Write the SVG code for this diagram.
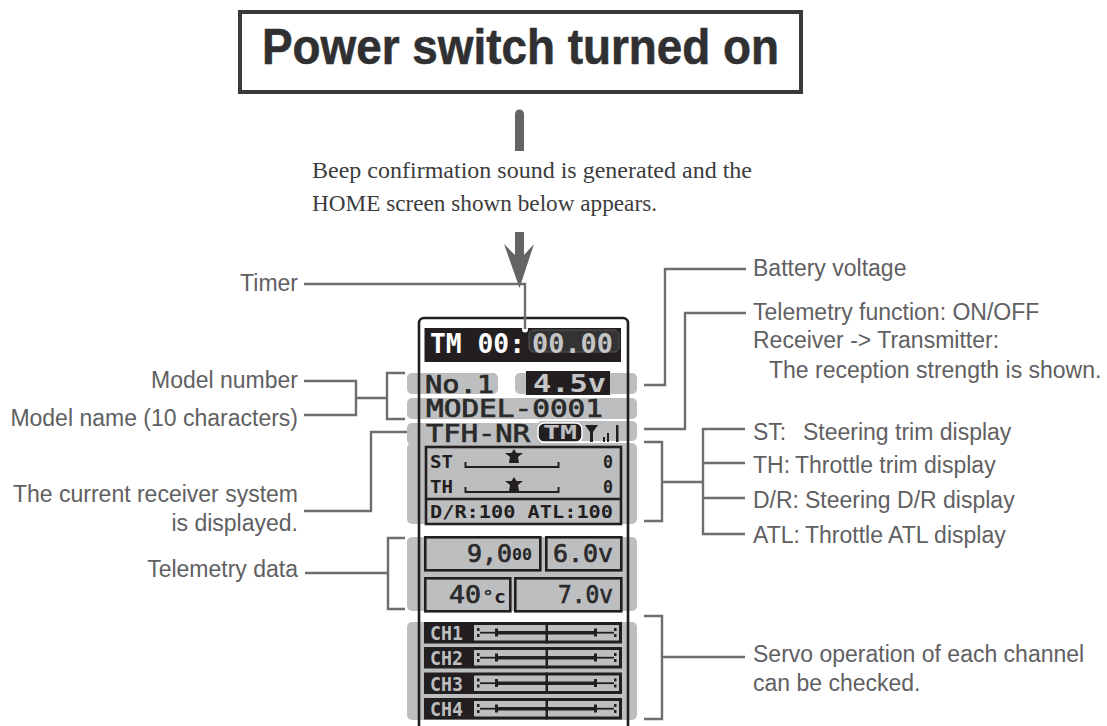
<svg xmlns="http://www.w3.org/2000/svg" width="1107" height="726" viewBox="0 0 1107 726">
<style>
.lb{font-family:"Liberation Sans",Arial,sans-serif;font-size:23px;fill:#5f6062}
.end{text-anchor:end}
.ser{font-family:"Liberation Serif","Times New Roman",serif;font-size:23px;fill:#3c3c3c}
.c{fill:none;stroke:#6d6e71;stroke-width:2.4}
.band{fill:#bcbec0}
.lcd{font-family:"DejaVu Sans Mono",monospace;font-size:24px;fill:#2a2a2a;stroke:#2a2a2a;stroke-width:.7}
.lcdb{font-family:"DejaVu Sans Mono",monospace;font-size:18px;font-weight:bold;fill:#231f20}
.panel{fill:none;stroke:#231f20;stroke-width:2.6}
.blk{fill:#231f20}
.chl{font-family:"DejaVu Sans Mono",monospace;font-size:20px;font-weight:bold;fill:#bcbec0}
</style>
<rect width="1107" height="726" fill="#fff"/>
<g id="title">
<rect x="240" y="12" width="561" height="80" fill="#fff" stroke="#3a3a3c" stroke-width="4"/>
<text x="262" y="64" font-family="'Liberation Sans',Arial,sans-serif" font-weight="bold" font-size="50" fill="#303032" stroke="#303032" stroke-width=".6" textLength="517" lengthAdjust="spacingAndGlyphs">Power switch turned on</text>
</g>
<g id="beep-note">
<path d="M515 151V114a4.500 4.500 0 0 1 9 0V151Z" fill="#636466"/>
<text class="ser" x="312" y="178" textLength="440" lengthAdjust="spacingAndGlyphs">Beep confirmation sound is generated and the</text>
<text class="ser" x="312" y="211" textLength="345" lengthAdjust="spacingAndGlyphs">HOME screen shown below appears.</text>
<path d="M515 232H524V255L534 244L519.500 288L504 244L515 255Z" fill="#636466"/>
</g>
<g id="screen">
<rect class="band" x="407" y="373" width="91" height="21" rx="5"/>
<rect class="band" x="515" y="373" width="122" height="21" rx="5"/>
<rect class="band" x="407" y="398" width="230" height="21" rx="5"/>
<rect class="band" x="407" y="423" width="135" height="22" rx="5"/>
<rect class="band" x="537" y="421" width="100" height="20" rx="5"/>
<rect class="band" x="407" y="443" width="230" height="81" rx="5"/>
<rect class="band" x="407" y="537" width="230" height="74" rx="5"/>
<rect class="band" x="407" y="622" width="230" height="98" rx="5"/>
<path d="M419 726V323a5 5 0 0 1 5-5H623a5 5 0 0 1 5 5V726" fill="none" stroke="#231f20" stroke-width="2.600"/>
<g id="timer-display">
<rect class="blk" x="424.500" y="328" width="196.500" height="34"/>
<rect x="529" y="330" width="90" height="22" rx="5" fill="#333" stroke="#666" stroke-width="0.800"/>
<text x="430" y="353" font-family="'DejaVu Sans Mono',monospace" font-size="27" font-weight="bold" fill="#fff" textLength="95" lengthAdjust="spacingAndGlyphs">TM 00:</text>
<text x="532" y="353" font-family="'DejaVu Sans Mono',monospace" font-size="27" font-weight="bold" fill="#c4c5c7" textLength="81" lengthAdjust="spacingAndGlyphs">00.00</text>
<circle cx="525" cy="329.500" r="3" fill="#fff"/>
</g>
<g id="model-number"><text class="lcd" x="425" y="393" textLength="69" lengthAdjust="spacingAndGlyphs">No.1</text></g>
<g id="battery-display">
<rect class="blk" x="526" y="371" width="84" height="24"/>
<text x="533" y="392" font-family="'DejaVu Sans Mono',monospace" font-size="24" font-weight="bold" fill="#c4c5c7" textLength="73" lengthAdjust="spacingAndGlyphs">4.5v</text>
</g>
<g id="model-name"><text class="lcd" x="426" y="417" textLength="177" lengthAdjust="spacingAndGlyphs">MODEL-0001</text></g>
<g id="receiver-system">
<text class="lcd" x="426" y="442" textLength="104" lengthAdjust="spacingAndGlyphs">TFH-NR</text>
<rect class="blk" x="538" y="423" width="44" height="19" rx="6" stroke="#fff" stroke-width="1.500"/>
<text x="543" y="439" font-family="'DejaVu Sans Mono',monospace" font-size="20" font-weight="bold" fill="#bcbec0" textLength="34" lengthAdjust="spacingAndGlyphs">TM</text>
<path d="M585 425H598L593 432V442H590V432Z" fill="#231f20"/>
<rect class="blk" x="603" y="437" width="2" height="5"/>
<rect class="blk" x="607" y="433" width="2" height="9"/>
<rect class="blk" x="616" y="425" width="2.500" height="17"/>
</g>
<g id="trim-display">
<rect class="panel" x="426" y="447" width="195" height="77"/>
<path class="panel" d="M426 499H621"/>
<text class="lcdb" x="430" y="468" textLength="23" lengthAdjust="spacingAndGlyphs">ST</text>
<text class="lcdb" x="430" y="493" textLength="23" lengthAdjust="spacingAndGlyphs">TH</text>
<text class="lcdb" x="603" y="468" textLength="10" lengthAdjust="spacingAndGlyphs">0</text>
<text class="lcdb" x="603" y="493" textLength="10" lengthAdjust="spacingAndGlyphs">0</text>
<path d="M465.500 462V467H558.500V462" fill="none" stroke="#231f20" stroke-width="2"/>
<path d="M465.500 487V492H558.500V487" fill="none" stroke="#231f20" stroke-width="2"/>
<path id="st-marker" d="M514 449L516.500 453H523L518 457L519 463H509L510 457L505 453H511.500Z" class="blk"/>
<path id="th-marker" d="M514 477L516.500 481H523L518 485L519 491H509L510 485L505 481H511.500Z" class="blk"/>
<text class="lcdb" x="430" y="518" textLength="183" lengthAdjust="spacingAndGlyphs">D/R:100 ATL:100</text>
</g>
<g id="telemetry-data">
<rect class="panel" x="425.300" y="537.300" width="115" height="33"/>
<rect class="panel" x="546.300" y="537.300" width="75" height="33"/>
<rect class="panel" x="425.300" y="578.300" width="85" height="33"/>
<rect class="panel" x="515.300" y="578.300" width="106" height="33"/>
<text class="lcd" x="467" y="562" textLength="45" lengthAdjust="spacingAndGlyphs">9,0</text>
<text class="lcdb" x="512" y="560" style="font-size:15px" textLength="20" lengthAdjust="spacingAndGlyphs">00</text>
<text class="lcd" x="553" y="562" textLength="60" lengthAdjust="spacingAndGlyphs">6.0v</text>
<text class="lcd" x="449" y="603" textLength="32" lengthAdjust="spacingAndGlyphs">40</text>
<text class="lcdb" x="482" y="603" textLength="24" lengthAdjust="spacingAndGlyphs">°c</text>
<text class="lcd" x="558" y="603" textLength="55" lengthAdjust="spacingAndGlyphs">7.0v</text>
</g>
<defs>
<g id="servo-track">
<rect class="blk" x="424" y="0" width="198" height="21.500"/>
<rect class="band" x="474" y="3" width="145" height="15.500"/>
<rect class="blk" x="545.500" y="0" width="2.500" height="21.500"/>
<rect class="blk" x="477" y="6" width="2.500" height="3"/><rect class="blk" x="477" y="12" width="2.500" height="3"/>
<rect class="blk" x="480" y="9.800" width="16" height="1.800"/>
<rect class="blk" x="495" y="6.500" width="3" height="8"/>
<rect class="blk" x="498" y="9" width="97" height="3.500"/>
<rect class="blk" x="594" y="6.500" width="3" height="8"/>
<rect class="blk" x="597" y="9.800" width="17" height="1.800"/>
<rect class="blk" x="614" y="6" width="2.500" height="3"/><rect class="blk" x="614" y="12" width="2.500" height="3"/>
</g>
</defs>
<g id="ch1"><use href="#servo-track" y="622"/><text class="chl" x="430" y="640" textLength="33" lengthAdjust="spacingAndGlyphs">CH1</text></g>
<g id="ch2"><use href="#servo-track" y="647"/><text class="chl" x="430" y="665" textLength="33" lengthAdjust="spacingAndGlyphs">CH2</text></g>
<g id="ch3"><use href="#servo-track" y="672.500"/><text class="chl" x="430" y="690.500" textLength="33" lengthAdjust="spacingAndGlyphs">CH3</text></g>
<g id="ch4"><use href="#servo-track" y="698"/><text class="chl" x="430" y="716" textLength="33" lengthAdjust="spacingAndGlyphs">CH4</text></g>
</g>
<g id="connectors">
<path class="c" d="M304 284H525V329"/>
<path class="c" d="M304 381H356V415H304M356 398H387M405 373H387V419H405"/>
<path class="c" d="M304 511H371V432H407"/>
<path class="c" d="M305 573H388M405 538H388V609H405"/>
<path class="c" d="M746 269H665V385H644"/>
<path class="c" d="M746 313H685V429H644"/>
<path class="c" d="M644 442H662V521H644M662 482H703M745 429H703V534H745M703 463H745M703 498H745"/>
<path class="c" d="M644 616H662V719H644M662 657H745"/>
</g>
<g id="labels">
<text class="lb end" x="298" y="291">Timer</text>
<text class="lb end" x="298" y="388">Model number</text>
<text class="lb end" x="298" y="426">Model name (10 characters)</text>
<text class="lb end" x="298" y="502">The current receiver system</text>
<text class="lb end" x="298" y="531">is displayed.</text>
<text class="lb end" x="298" y="577">Telemetry data</text>
<text class="lb" x="753" y="276">Battery voltage</text>
<text class="lb" x="753" y="320">Telemetry function: ON/OFF</text>
<text class="lb" x="753" y="348">Receiver -&gt; Transmitter:</text>
<text class="lb" x="769" y="378">The reception strength is shown.</text>
<text class="lb" x="753" y="440">ST:<tspan x="803">Steering trim display</tspan></text>
<text class="lb" x="753" y="473">TH:<tspan x="795">Throttle trim display</tspan></text>
<text class="lb" x="753" y="508">D/R:<tspan x="805">Steering D/R display</tspan></text>
<text class="lb" x="753" y="543">ATL:<tspan x="805">Throttle ATL display</tspan></text>
<text class="lb" x="753" y="662">Servo operation of each channel</text>
<text class="lb" x="753" y="691">can be checked.</text>
</g>
</svg>
